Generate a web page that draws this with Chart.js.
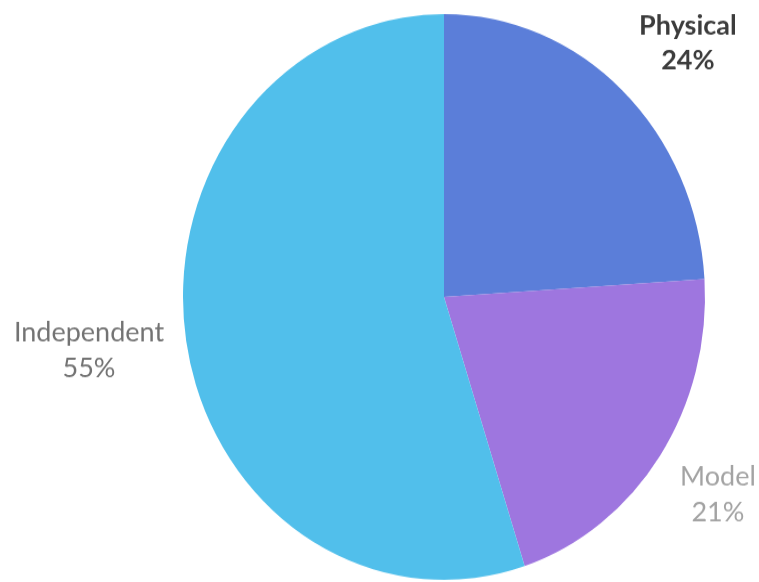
<!DOCTYPE html>
<html>
<head>
<meta charset="utf-8">
<script src="https://cdn.jsdelivr.net/npm/chart.js@4"></script>
<style>
  html, body { margin: 0; padding: 0; background: #ffffff; overflow: hidden; }
  #outer { width: 759px; height: 582px; overflow: hidden; }
  #wrap { width: 759px; height: 537px; transform-origin: 0 0; transform: scaleY(1.08380); }
  #c { display: block; }
</style>
</head>
<body>
<div id="outer"><div id="wrap"><canvas id="c" width="759" height="537"></canvas></div></div>
<script>
// ---- data ----
const categories = ["Physical", "Model", "Independent"];
const shares = [24, 21, 55];
const percentLabels = ["24%", "21%", "55%"];
const sliceColors = ["#5b7ed9", "#9e76df", "#51bfeb"];

// label styling (outside labels placed radially from each slice's middle)
const labelColors = ["#3c3c3c", "#a3a3a3", "#737373"];
const labelWeights = ["bold", "normal", "normal"];
const labelDist = [1.297, 1.26, 1.373];
const labelTurnDeg = [2.9, -0.6, 1.16];

const SY = 582 / 537; // vertical stretch of the canvas (pie appears slightly elliptical)

const outerLabels = {
  id: 'outerLabels',
  afterDraw(chart) {
    const ctx = chart.ctx;
    const meta = chart.getDatasetMeta(0);
    ctx.save();
    ctx.scale(1, 1 / SY);
    ctx.textAlign = 'center';
    ctx.textBaseline = 'middle';
    meta.data.forEach((arc, i) => {
      const p = arc.getProps(['x', 'y', 'startAngle', 'endAngle', 'outerRadius'], true);
      const mid = (p.startAngle + p.endAngle) / 2 + labelTurnDeg[i] * Math.PI / 180;
      const R = p.outerRadius * labelDist[i];
      const x = p.x + Math.cos(mid) * R;
      const y = (p.y + Math.sin(mid) * R) * SY;
      ctx.fillStyle = labelColors[i];
      ctx.font = labelWeights[i] + ' 27px Lato, "Open Sans", sans-serif';
      ctx.fillText(categories[i], x, y - 17);
      ctx.fillText(percentLabels[i], x, y + 18);
    });
    ctx.restore();
  }
};

new Chart(document.getElementById('c'), {
  type: 'pie',
  data: {
    labels: categories,
    datasets: [{
      data: shares,
      backgroundColor: sliceColors,
      borderWidth: 0
    }]
  },
  options: {
    responsive: false,
    animation: false,
    devicePixelRatio: 1,
    layout: { padding: { left: 183, right: 54, top: 13, bottom: 2 } },
    plugins: {
      legend: { display: false },
      tooltip: { enabled: false }
    }
  },
  plugins: [outerLabels]
});
</script>
</body>
</html>
